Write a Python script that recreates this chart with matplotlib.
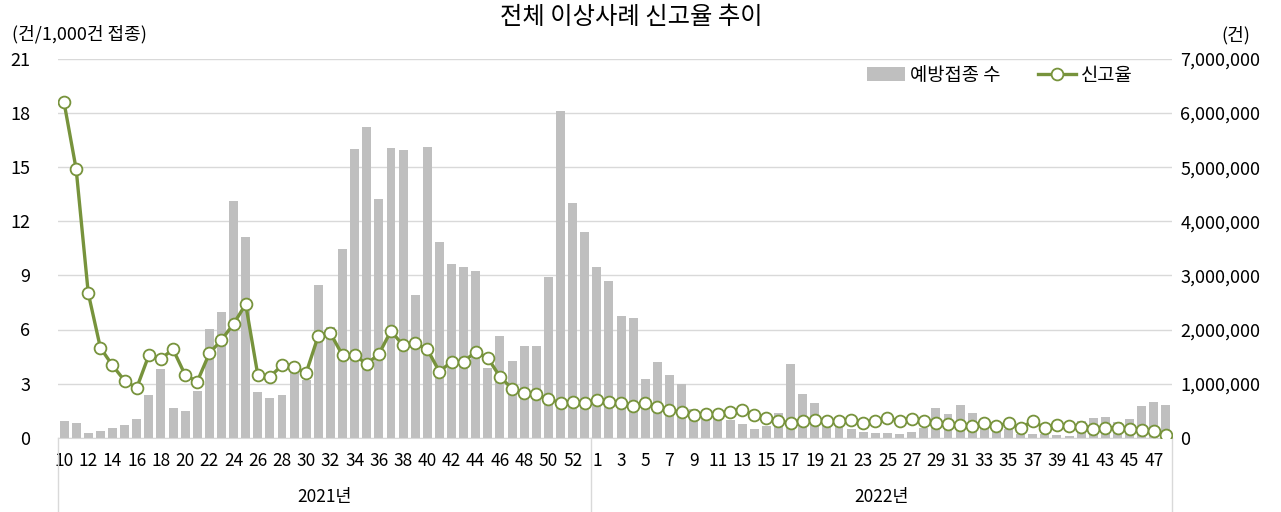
import matplotlib as mpl
mpl.use('Agg')
import matplotlib.pyplot as plt
import matplotlib.ticker as tick
import matplotlib.transforms as mtrans

plt.rcParams['font.family'] = ['Noto Sans CJK KR', 'DejaVu Sans']

# 주차 (2021년 10~53주, 2022년 1~48주)
weeks_2021 = list(range(10, 54))
weeks_2022 = list(range(1, 49))

# 예방접종 수 (건)
doses_2021 = [307000, 270000, 93000, 130000, 183000, 227000, 347000, 797000, 1277000, 550000,
              493000, 870000, 2003000, 2323000, 4370000, 3710000, 850000, 727000, 797000, 1283000,
              1073000, 2823000, 2040000, 3483000, 5340000, 5740000, 4413000, 5357000, 5313000, 2640000,
              5377000, 3623000, 3207000, 3163000, 3083000, 1293000, 1880000, 1417000, 1697000, 1697000,
              2977000, 6040000, 4347000, 3803000]
doses_2022 = [3163000, 2897000, 2257000, 2213000, 1090000, 1393000, 1153000, 1000000, 527000, 487000,
              463000, 327000, 250000, 160000, 223000, 463000, 1357000, 807000, 647000, 367000,
              283000, 160000, 103000, 87000, 87000, 60000, 103000, 183000, 543000, 433000,
              603000, 450000, 327000, 240000, 157000, 63000, 63000, 63000, 50000, 27000,
              310000, 370000, 390000, 297000, 347000, 587000, 653000, 603000]

# 신고율 (건/1,000건 접종)
rate_2021 = [18.59, 14.89, 8.01, 4.99, 4.01, 3.16, 2.76, 4.57, 4.38, 4.90,
             3.48, 3.11, 4.68, 5.42, 6.31, 7.40, 3.48, 3.38, 4.01, 3.90,
             3.61, 5.66, 5.79, 4.57, 4.57, 4.09, 4.64, 5.92, 5.12, 5.23,
             4.90, 3.66, 4.22, 4.22, 4.77, 4.42, 3.38, 2.72, 2.46, 2.40,
             2.15, 1.94, 2.00, 1.94]
rate_2022 = [2.09, 2.00, 1.94, 1.76, 1.94, 1.72, 1.54, 1.42, 1.28, 1.31,
             1.34, 1.44, 1.56, 1.26, 1.11, 0.94, 0.80, 0.90, 0.96, 0.95,
             0.92, 0.99, 0.80, 0.95, 1.07, 0.94, 1.04, 0.91, 0.80, 0.78,
             0.71, 0.65, 0.84, 0.66, 0.80, 0.54, 0.92, 0.54, 0.71, 0.63,
             0.61, 0.49, 0.56, 0.56, 0.50, 0.43, 0.35, 0.15]

years = ['2021년', '2022년']

week_labels = [str(w) for w in weeks_2021 + weeks_2022]
doses = doses_2021 + doses_2022
rates = rate_2021 + rate_2022
x = list(range(len(week_labels)))
n1 = len(weeks_2021)

BAR_C = '#BFBFBF'
LINE_C = '#77933C'
GRID_C = '#D9D9D9'
TEXT_C = '#000000'
TICK_W = 'medium'

W, H = 1281, 512
fig = plt.figure(figsize=(W / 100, H / 100), dpi=100)
L, R, T, B = 58, 1172, 59, 437.7
ax1 = fig.add_axes([L / W, 1 - B / H, (R - L) / W, (B - T) / H])  # 막대 (오른쪽 축)
ax2 = ax1.twinx()                                                  # 꺾은선 (왼쪽 축)

# 막대
ax1.bar(x, doses, width=0.74, color=BAR_C, zorder=2, label='예방접종 수')
ax1.set_ylim(0, 7000000)
ax1.yaxis.set_major_locator(tick.MultipleLocator(1000000))
ax1.yaxis.set_major_formatter(tick.FuncFormatter(lambda v, p: '{:,.0f}'.format(v)))
ax1.yaxis.tick_right()
ax1.grid(axis='y', color=GRID_C, linewidth=1.0, zorder=0)
ax1.set_axisbelow(True)

# 꺾은선
ax2.plot(x, rates, color=LINE_C, linewidth=2.4, marker='o', markersize=8.5,
         markerfacecolor='white', markeredgecolor=LINE_C, markeredgewidth=1.3,
         zorder=3, label='신고율')
ax2.set_ylim(0, 21)
ax2.yaxis.set_major_locator(tick.MultipleLocator(3))
ax2.yaxis.tick_left()

ax1.set_xlim(-0.5, len(x) - 0.5)

for ax in (ax1, ax2):
    for s in ('top', 'left', 'right', 'bottom'):
        ax.spines[s].set_visible(False)
ax1.spines['bottom'].set_visible(True)
ax1.spines['bottom'].set_color(GRID_C)

ax1.tick_params(axis='y', length=0, pad=6, labelsize=13, colors=TEXT_C)
ax2.tick_params(axis='y', length=0, pad=20, labelsize=13, colors=TEXT_C)

# x축: 2주 간격 표시
ax1.set_xticks(x[::2])
ax1.set_xticklabels(week_labels[::2])
ax1.tick_params(axis='x', length=0, pad=10, labelsize=12.5, colors=TEXT_C)

for lab in ax1.get_xticklabels() + ax1.get_yticklabels() + ax2.get_yticklabels():
    lab.set_fontweight(TICK_W)

# 연도 구분선과 연도 라벨
trans = mtrans.blended_transform_factory(ax1.transData, ax1.transAxes)
depth = (H - B) / (B - T)
for xv in (-0.5, n1 - 0.5, len(x) - 0.5):
    ax1.plot([xv, xv], [0, -depth], color=GRID_C, linewidth=1.0, transform=trans, clip_on=False)
ax1.text((n1 - 1) / 2, -(497 - B) / (B - T), years[0], transform=trans,
         ha='center', va='center', fontsize=12.5, fontweight=TICK_W)
ax1.text(n1 + (len(x) - n1 - 1) / 2, -(497 - B) / (B - T), years[1], transform=trans,
         ha='center', va='center', fontsize=12.5, fontweight=TICK_W)

# 제목, 단위
fig.text(631 / W, 1 - 17.5 / H, '전체 이상사례 신고율 추이', ha='center', va='center', fontsize=17.5)
fig.text(12 / W, 1 - 34 / H, '(건/1,000건 접종)', ha='left', va='center', fontsize=13, fontweight=TICK_W)
fig.text(1236 / W, 1 - 35 / H, '(건)', ha='center', va='center', fontsize=13, fontweight=TICK_W)

# 범례
h1, l1 = ax1.get_legend_handles_labels()
h2, l2 = ax2.get_legend_handles_labels()
ax2.legend(h1 + h2, l1 + l2, loc='center', ncol=2, frameon=False,
           bbox_to_anchor=(1000 / W, 1 - 75 / H), bbox_transform=fig.transFigure,
           prop={'size': 13.5}, handlelength=2.0, handletextpad=0.3, columnspacing=2.0)

plt.savefig('out.png', dpi=100)
